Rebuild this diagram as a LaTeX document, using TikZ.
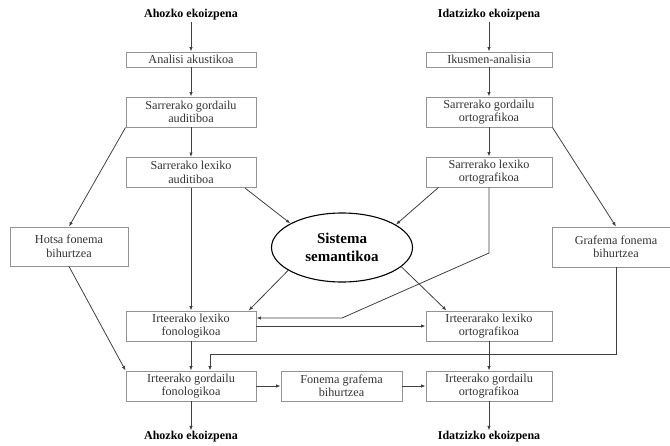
\documentclass[tikz,border=0pt]{standalone}
\usepackage{fontspec}
\setmainfont{Liberation Serif}
\usetikzlibrary{arrows.meta}
\usetikzlibrary{shapes.geometric}

\begin{document}
\begin{tikzpicture}[x=1pt,y=-1pt,
  box/.style={draw=gray!85,line width=0.9pt,text=black!80,align=center,inner sep=0pt,
    font=\fontsize{12.2}{13.5}\selectfont,minimum height=30pt},
  title/.style={font=\fontsize{12}{13}\selectfont\bfseries,inner sep=1pt},
  arr/.style={draw=black!75,line width=0.8pt,-{Latex[length=4.5pt,width=3.5pt]}}]
 \useasboundingbox (0,0) rectangle (670,445);
 \node[title] (ahoz1) at (191,15) {Ahozko ekoizpena};
 \node[title] (idat1) at (489,15) {Idatzizko ekoizpena};
 \node[box,minimum width=130pt,minimum height=15pt] (ana) at (191,59.5) {Analisi akustikoa};
 \node[box,minimum width=126pt,minimum height=15pt] (ikus) at (489,59.5) {Ikusmen-analisia};
 \node[box,minimum width=130pt] (sga) at (191,112) {Sarrerako gordailu\\auditiboa};
 \node[box,minimum width=126pt] (sgo) at (489,112) {Sarrerako gordailu\\ortografikoa};
 \node[box,minimum width=130pt] (sla) at (191,172.5) {Sarrerako lexiko\\auditiboa};
 \node[box,minimum width=126pt] (slo) at (489,172) {Sarrerako lexiko\\ortografikoa};
 \node[box,minimum width=118pt,minimum height=39pt] (hots) at (69,246.5) {Hotsa fonema\\bihurtzea};
 \node[box,minimum width=128pt,minimum height=40pt] (graf) at (616,247) {Grafema fonema\\bihurtzea};
 \node[ellipse,draw=black,line width=1.1pt,minimum width=141pt,minimum height=69pt,inner sep=0pt,
   align=center,font=\fontsize{15}{18}\selectfont\bfseries] (sem) at (342,247.5) {Sistema\\semantikoa};
 \node[box,minimum width=130pt] (ilf) at (191,326) {Irteerako lexiko\\fonologikoa};
 \node[box,minimum width=126pt] (ilo) at (489,326) {Irteerarako lexiko\\ortografikoa};
 \node[box,minimum width=130pt] (igf) at (191,386) {Irteerako gordailu\\fonologikoa};
 \node[box,minimum width=121pt] (fgb) at (341.5,386) {Fonema grafema\\bihurtzea};
 \node[box,minimum width=126pt] (igo) at (489,386) {Irteerako gordailu\\ortografikoa};
 \node[title] (ahoz2) at (191,437) {Ahozko ekoizpena};
 \node[title] (idat2) at (489,437) {Idatzizko ekoizpena};
 \coordinate (k1) at (489,253);
 \coordinate (k2) at (342,318);
 \coordinate (k3) at (616,354);
 \coordinate (k4) at (210,354);
 \draw[arr] (ahoz1) -- (ana);
 \draw[arr] (ana) -- (sga);
 \draw[arr] (sga) -- (sla);
 \draw[arr] (sga.south west) -- (hots.north);
 \draw[arr] (sla) -- (ilf);
 \draw[arr] (sla.-16) -- (sem.155);
 \draw[arr] (hots.south) -- (igf.north west);
 \draw[arr] (idat1) -- (ikus);
 \draw[arr] (ikus) -- (sgo);
 \draw[arr] (sgo) -- (slo);
 \draw[arr] (sgo.south east) -- (graf.north);
 \draw[arr] (slo.197) -- (sem.23);
 \draw[arr] (sem.203) -- (ilf.15.5);
 \draw[arr] (sem.-18) -- (ilo.160);
 \draw[arr] (slo.south) -- (k1) -- (k2) -- (k2 -| ilf.east);
 \draw[arr] (ilf) -- (ilo);
 \draw[arr] (ilf) -- (igf);
 \draw[arr] (ilo) -- (igo);
 \draw[arr] (graf.south) -- (k3) -- (k4) -- (k4 |- igf.north);
 \draw[arr] (igf) -- (fgb);
 \draw[arr] (fgb) -- (igo);
 \draw[arr] (igf) -- (ahoz2);
 \draw[arr] (igo) -- (idat2);
\end{tikzpicture}
\end{document}
